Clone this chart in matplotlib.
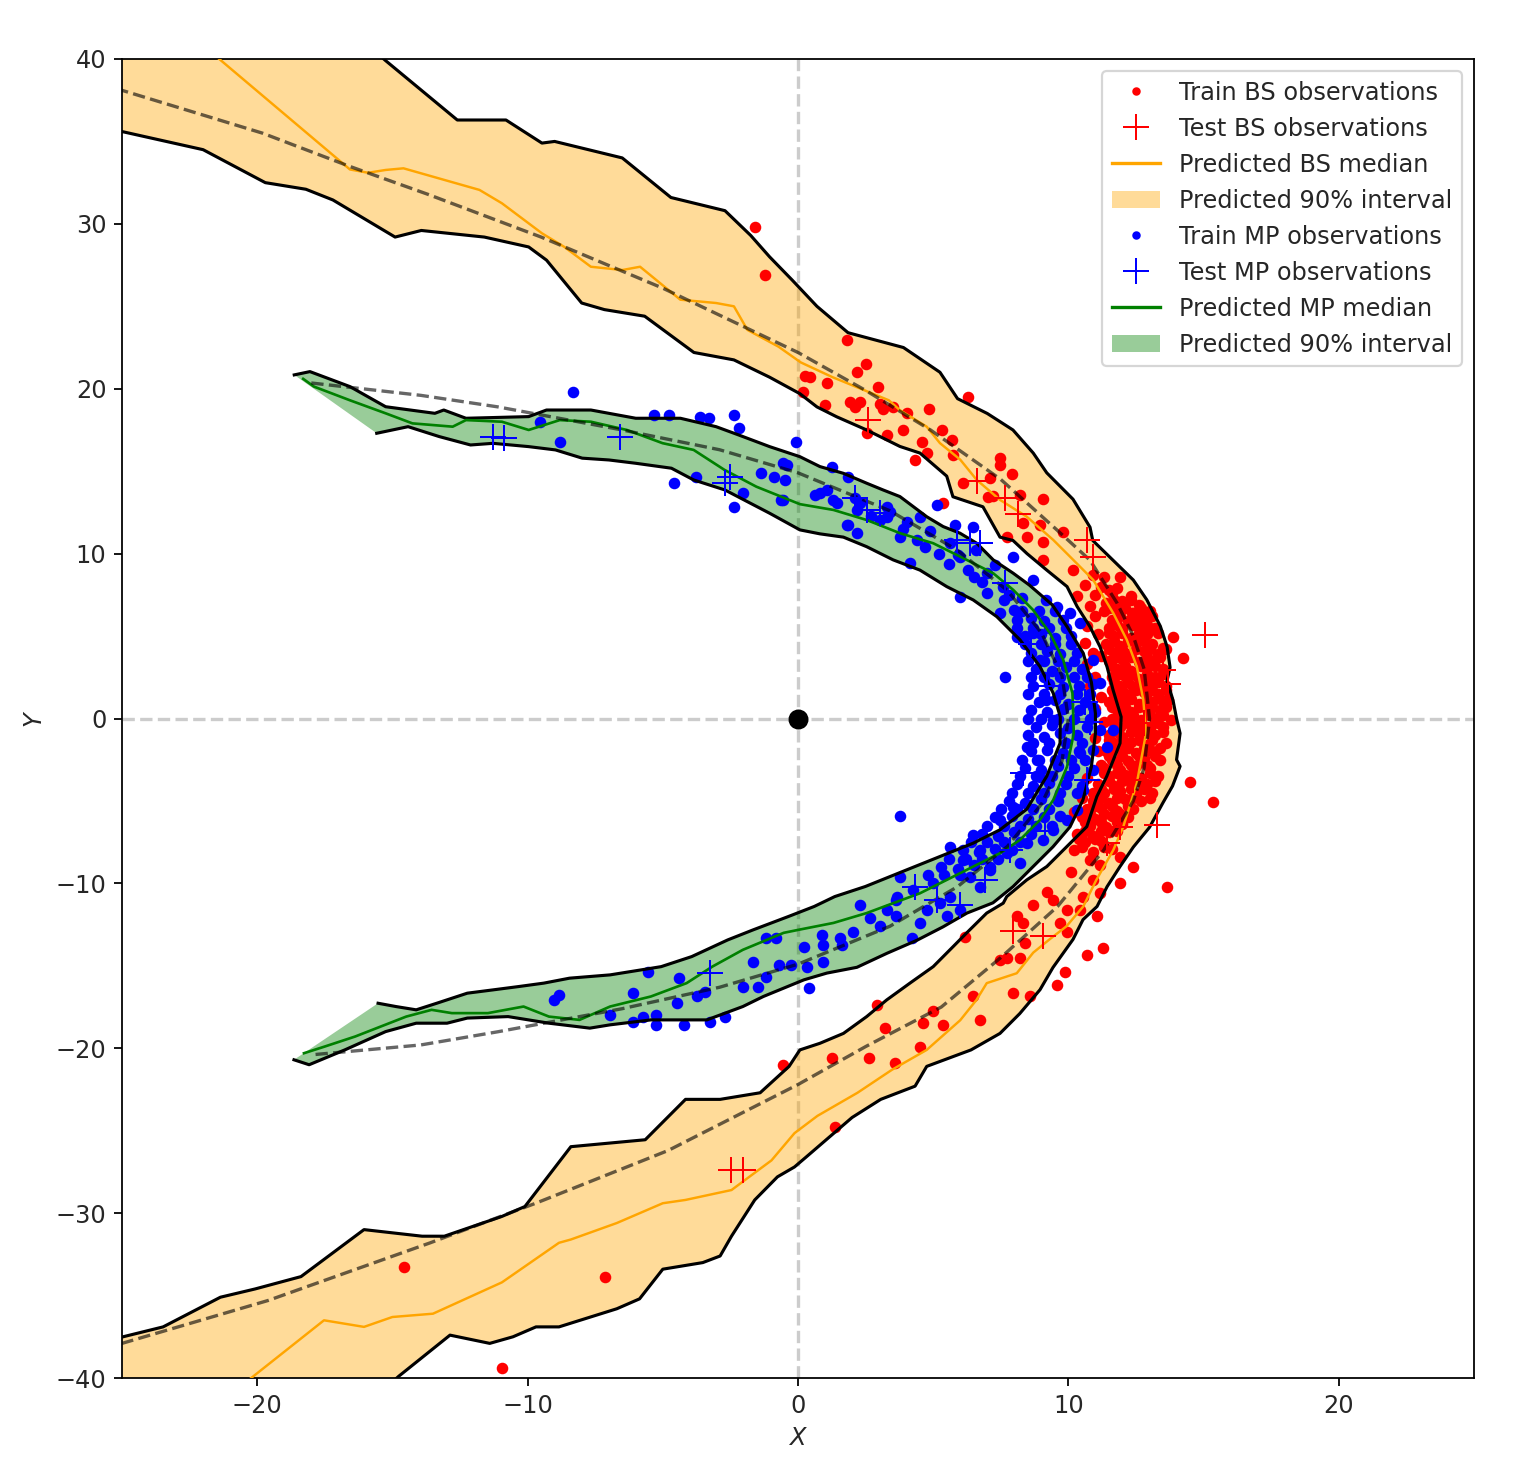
import matplotlib
matplotlib.use("Agg")
import matplotlib.pyplot as plt
from matplotlib.lines import Line2D
from matplotlib.patches import Patch

# ---------------- data ----------------
# Bow shock 90% interval: outer edge and inner edge (x, y), top -> bottom
bs_outer = [(-16.0, 41.0), (-15.25, 39.9), (-12.6, 36.3), (-10.8, 36.3), (-9.47, 34.9), (-9.0, 35.0),
            (-6.5, 34.0), (-4.7, 31.6), (-2.7, 30.8), (-1.75, 29.3), (-1.05, 28.0), (-0.22, 26.6),
            (0.7, 25.0), (1.85, 23.4), (3.9, 22.5), (5.25, 21.0), (5.9, 19.4), (7.0, 18.5),
            (7.95, 17.5), (8.7, 16.1), (9.2, 14.9), (10.17, 13.3), (10.8, 11.6), (10.9, 10.8),
            (11.65, 9.6), (12.4, 8.4), (12.9, 7.2), (13.4, 5.6), (13.65, 4.35), (13.76, 3.1),
            (13.65, 2.3), (13.87, 1.1), (14.0, 0.0), (14.13, -0.9), (14.0, -2.5), (14.13, -2.9),
            (13.85, -4.1), (13.5, -5.1), (13.0, -6.6), (12.4, -7.8), (11.9, -9.0), (11.43, -10.2),
            (11.06, -11.4), (10.54, -12.2), (10.17, -13.4), (9.43, -15.1), (8.95, -16.45),
            (8.2, -17.9), (7.47, -19.1), (6.4, -20.1), (4.76, -21.1), (4.33, -22.3), (3.06, -23.1),
            (2.0, -24.2), (1.15, -25.4), (0.3, -26.6), (-0.13, -27.2), (-0.76, -27.8), (-1.6, -29.2),
            (-2.46, -31.4), (-2.88, -32.6), (-3.52, -33.0), (-5.0, -33.4), (-5.86, -35.2),
            (-6.7, -35.8), (-8.84, -36.9), (-9.69, -36.9), (-10.54, -37.5), (-11.4, -37.9),
            (-12.87, -37.4), (-14.77, -39.9), (-15.5, -41.0)]
bs_inner = [(-30.0, 37.4), (-25.0, 35.6), (-22.0, 34.5), (-19.7, 32.5), (-18.2, 32.1), (-17.2, 31.45),
            (-14.9, 29.2), (-13.93, 29.6), (-11.6, 29.2), (-9.96, 28.6), (-9.3, 27.8), (-8.0, 25.2),
            (-7.16, 24.8), (-5.67, 24.4), (-3.85, 22.2), (-2.37, 21.75), (-1.05, 20.7), (0.07, 19.7),
            (0.7, 18.9), (1.43, 18.3), (2.54, 17.5), (3.77, 16.5), (4.51, 16.1), (5.5, 14.7),
            (5.73, 13.45), (6.84, 12.84), (7.47, 11.0), (7.95, 10.8), (8.47, 10.0), (9.2, 9.0),
            (9.95, 8.0), (10.32, 6.8), (10.8, 5.56), (11.17, 4.35), (11.43, 3.13), (11.65, 1.74),
            (11.95, 0.1), (11.91, -1.5), (11.42, -3.5), (11.05, -4.74), (10.68, -6.56), (9.94, -7.77),
            (9.2, -8.98), (8.46, -9.79), (7.72, -10.8), (7.59, -11.2), (6.98, -11.8), (6.24, -13.0),
            (5.74, -13.83), (5.0, -15.05), (4.14, -16.05), (3.28, -17.07), (2.54, -18.08),
            (1.68, -19.1), (0.81, -19.7), (0.07, -20.1), (-0.33, -21.1), (-1.4, -22.7), (-2.88, -23.1),
            (-4.16, -23.1), (-5.65, -25.55), (-8.4, -25.97), (-10.1, -29.6), (-10.95, -30.2),
            (-13.08, -31.4), (-13.9, -31.4), (-16.05, -31.0), (-18.38, -33.85), (-20.08, -34.6),
            (-21.36, -35.1), (-23.48, -36.9), (-24.96, -37.5), (-30.0, -39.6)]
bs_median = [(-22.0, 40.8), (-21.36, 39.94), (-16.57, 33.3), (-15.9, 33.1), (-15.25, 33.27),
             (-14.59, 33.37), (-11.78, 32.06), (-10.95, 31.25), (-9.47, 29.43), (-8.64, 28.6),
             (-7.66, 27.4), (-6.5, 27.2), (-5.84, 27.4), (-4.35, 25.4), (-3.03, 25.2), (-2.37, 25.0),
             (-1.87, 23.57), (-0.72, 22.55), (0.1, 21.6), (1.28, 20.7), (3.36, 19.3), (3.77, 18.7),
             (4.76, 17.7), (5.25, 16.7), (6.0, 15.7), (6.61, 14.47), (7.47, 13.26), (8.46, 12.24),
             (9.44, 10.83), (10.18, 9.62), (10.92, 8.4), (11.66, 6.39), (12.16, 4.77), (12.53, 3.15),
             (12.77, 1.13), (12.87, -0.9), (12.53, -3.92), (12.03, -6.56), (11.66, -7.98),
             (11.03, -9.8), (10.55, -11.4), (9.93, -12.6), (9.3, -13.4), (8.7, -14.2), (8.09, -15.45),
             (6.98, -16.05), (6.6, -17.07), (6.0, -18.3), (4.76, -20.1), (3.48, -21.3), (2.2, -22.7),
             (0.72, -24.1), (-0.13, -25.15), (-0.98, -26.8), (-2.46, -28.6), (-4.16, -29.2),
             (-5.0, -29.4), (-6.7, -30.6), (-8.4, -31.6), (-8.84, -31.8), (-10.95, -34.2),
             (-13.5, -36.1), (-15.0, -36.3), (-16.05, -36.9), (-17.53, -36.5), (-20.3, -40.1),
             (-20.8, -41.0)]
bs_model = [(-26.5, 38.6), (-25.0, 38.1), (-19.8, 35.5), (-16.6, 33.5), (-13.7, 31.8), (-9.5, 29.2),
            (-5.0, 26.1), (0.0, 22.2), (2.5, 19.9), (4.9, 17.5), (7.5, 14.5), (9.6, 11.4), (10.8, 9.6),
            (11.8, 7.0), (12.4, 5.0), (12.8, 3.0), (13.0, 0.0), (12.8, -3.0), (12.4, -5.0),
            (11.3, -8.0), (9.6, -11.4), (7.5, -14.5), (5.3, -17.5), (2.5, -19.9), (0.0, -22.2),
            (-4.8, -26.2), (-9.7, -29.4), (-13.6, -31.8), (-19.6, -35.3), (-25.0, -37.9), (-26.5, -38.6)]

# Magnetopause 90% interval: outer edge (tip -> nose -> tip) and inner edge
mp_outer = [(-18.63, 20.84), (-18.05, 21.04), (-16.57, 20.13), (-15.25, 18.91), (-13.43, 18.51),
            (-13.1, 18.71), (-12.28, 18.21), (-9.96, 18.31), (-9.3, 18.71), (-7.66, 18.71),
            (-6.0, 18.21), (-4.35, 18.21), (-3.03, 17.7), (-2.2, 17.2), (-1.05, 16.49), (0.07, 15.88),
            (0.81, 15.28), (1.68, 14.87), (2.54, 14.27), (3.15, 13.86), (3.77, 13.46), (4.76, 12.24),
            (5.37, 11.64), (5.99, 11.24), (6.61, 10.63), (7.22, 9.62), (7.96, 8.81), (8.55, 8.1),
            (9.4, 6.9), (9.95, 5.57), (10.55, 3.96), (10.85, 2.2), (11.0, 0.3), (11.0, -0.9),
            (10.85, -2.93), (10.54, -4.93), (10.06, -6.57), (9.43, -7.78), (8.69, -8.99),
            (7.95, -10.2), (7.21, -11.18), (6.25, -11.8), (5.36, -12.64), (4.4, -13.45),
            (3.29, -14.24), (2.18, -15.09), (1.07, -15.44), (0.22, -15.85), (-1.28, -16.86),
            (-2.04, -17.47), (-3.37, -18.28), (-5.44, -18.28), (-6.95, -18.58), (-7.7, -18.78),
            (-9.21, -18.48), (-10.72, -18.08), (-12.23, -18.17), (-12.98, -18.48), (-14.12, -18.48),
            (-15.25, -18.99), (-16.76, -20.1), (-18.08, -21.0), (-18.64, -20.7)]
mp_inner = [(-15.58, 17.3), (-14.42, 17.7), (-13.27, 17.1), (-12.11, 16.59), (-11.28, 16.69),
            (-9.96, 16.49), (-8.97, 16.29), (-7.98, 15.79), (-6.99, 15.68), (-6.0, 15.48),
            (-4.68, 15.18), (-3.86, 14.47), (-2.7, 13.86), (-1.87, 13.15), (-1.05, 12.45),
            (0.07, 11.44), (0.81, 11.2), (1.68, 11.0), (2.54, 10.42), (3.52, 9.62), (4.51, 9.0),
            (5.5, 8.0), (6.48, 7.19), (7.35, 6.18), (8.21, 4.77), (8.95, 3.15), (9.44, 1.53),
            (9.7, 0.1), (9.69, -1.5), (9.2, -3.5), (8.46, -5.5), (7.47, -6.75), (6.48, -7.56),
            (5.25, -8.37), (4.02, -9.18), (2.49, -10.19), (1.36, -10.8), (0.6, -11.4), (-0.34, -12.0),
            (-1.66, -12.82), (-2.6, -13.43), (-3.93, -14.44), (-5.06, -15.05), (-5.81, -15.25),
            (-6.95, -15.55), (-8.45, -15.75), (-9.4, -16.05), (-10.34, -16.26), (-11.28, -16.46),
            (-12.23, -16.66), (-13.36, -17.27), (-14.12, -17.67), (-14.87, -17.47), (-15.53, -17.27)]
mp_median = [(-18.3, 20.6), (-17.9, 20.13), (-16.57, 19.3), (-15.25, 18.51), (-14.26, 17.9),
             (-12.77, 17.7), (-12.28, 18.1), (-10.95, 18.0), (-9.96, 17.5), (-8.81, 18.1),
             (-7.66, 18.0), (-6.33, 17.5), (-5.01, 16.7), (-3.86, 16.29), (-2.72, 15.08),
             (-1.54, 14.06), (0.07, 13.0), (1.31, 12.65), (2.54, 12.04), (3.77, 11.24), (5.0, 10.63),
             (6.24, 9.62), (7.22, 8.81), (7.96, 7.8), (8.69, 6.59), (9.32, 5.17), (9.81, 3.55),
             (10.15, 1.53), (10.2, -0.89), (9.95, -2.92), (9.44, -4.94), (8.95, -6.15), (8.21, -7.36),
             (7.47, -8.17), (6.48, -8.98), (5.5, -9.79), (4.51, -10.6), (3.52, -11.2), (2.54, -11.8),
             (1.31, -12.4), (0.07, -12.8), (-0.53, -13.0), (-2.04, -14.03), (-3.17, -15.05),
             (-4.12, -16.05), (-5.44, -16.86), (-6.95, -17.47), (-8.08, -18.28), (-9.21, -18.08),
             (-10.15, -17.47), (-11.47, -17.87), (-12.8, -17.87), (-13.55, -17.67), (-14.49, -18.08),
             (-16.38, -19.29), (-17.51, -19.9), (-18.27, -20.3)]
mp_model = [(-18.0, 20.35), (-13.95, 19.6), (-11.1, 18.9), (-6.5, 17.5), (-2.9, 16.3), (0.0, 14.9),
            (3.4, 12.6), (5.9, 10.2), (7.75, 7.75), (9.0, 5.2), (9.76, 2.6), (10.0, 0.0), (9.76, -2.6),
            (9.0, -5.2), (7.75, -7.75), (5.9, -10.2), (3.4, -12.6), (0.0, -14.9), (-2.9, -16.3),
            (-6.5, -17.6), (-11.1, -19.0), (-13.95, -19.8), (-18.0, -20.4)]

# Observations
bs_train = [
    (-1.59, 29.8), (-1.22, 26.9), (1.8, 22.96), (2.51, 21.5), (0.26, 20.8), (0.44, 20.7), (1.06, 20.33),
    (0.2, 19.8), (2.97, 20.1), (1.92, 19.2), (2.1, 18.9), (2.29, 19.2), (0.99, 19.0), (3.03, 19.1),
    (3.15, 18.8), (3.52, 18.9), (4.02, 18.5), (4.86, 18.8), (6.3, 19.5), (3.9, 17.5), (3.3, 17.2),
    (2.54, 17.3), (4.57, 16.8), (5.31, 17.5), (4.76, 16.1), (5.68, 16.9), (5.74, 16.0), (4.33, 15.7),
    (7.47, 15.8), (7.47, 15.4), (7.9, 14.8), (6.11, 14.3), (7.1, 14.6), (7.22, 13.5), (9.07, 13.3),
    (5.37, 13.1), (7.04, 13.46), (8.21, 13.56), (8.46, 11.03), (9.07, 10.73), (9.81, 11.33),
    (8.33, 11.84), (8.95, 11.74), (7.72, 11.03), (9.07, 9.62), (11.9, 8.6), (10.18, 9.0), (10.92, 8.7),
    (13.88, 4.97), (14.25, 3.66), (12.34, 6.39), (2.2, 21.0),
    (11.2, 8.0), (11.8, 7.9), (11.0, 7.5), (11.6, 7.6), (12.3, 7.4), (11.4, 7.0), (12.0, 7.1), (12.6, 6.9),
    (11.3, 6.5), (11.8, 6.6), (12.4, 6.4), (13.0, 6.5), (11.6, 6.0), (12.2, 5.9), (12.8, 6.1),
    (11.5, 5.5), (12.0, 5.4), (12.6, 5.6), (13.2, 5.5), (11.7, 5.0), (12.3, 4.9), (12.9, 5.1),
    (11.4, 4.5), (11.9, 4.4), (12.5, 4.6), (13.1, 4.5), (13.5, 4.3), (11.7, 4.0), (12.2, 3.9),
    (12.8, 4.1), (13.3, 3.9), (11.5, 3.5), (12.0, 3.6), (12.6, 3.4), (13.1, 3.5), (11.8, 3.0),
    (12.3, 2.9), (12.9, 3.1), (13.5, 3.0), (11.6, 2.5), (12.1, 2.6), (12.6, 2.4), (13.2, 2.5),
    (11.9, 2.0), (12.4, 1.9), (13.0, 2.1), (13.6, 2.0), (11.7, 1.5), (12.2, 1.4), (12.8, 1.6),
    (13.3, 1.5), (11.5, 1.0), (12.0, 1.1), (12.6, 0.9), (13.1, 1.0), (13.7, 1.1), (11.8, 0.5),
    (12.3, 0.4), (12.9, 0.6), (13.4, 0.5), (11.6, 0.0), (12.1, 0.1), (12.7, -0.1), (13.2, 0.0),
    (13.8, -0.1), (11.9, -0.5), (12.4, -0.4), (13.0, -0.6), (13.5, -0.5), (11.5, -1.0), (12.0, -1.1),
    (12.6, -0.9), (13.2, -1.0), (11.7, -1.5), (12.3, -1.4), (12.9, -1.6), (13.6, -1.5), (11.4, -2.0),
    (12.0, -1.9), (12.5, -2.1), (13.1, -2.0), (11.6, -2.5), (12.2, -2.6), (12.8, -2.4), (13.4, -2.5),
    (11.3, -3.0), (11.9, -3.1), (12.5, -2.9), (13.0, -3.0), (11.5, -3.5), (12.1, -3.4), (12.7, -3.6),
    (13.3, -3.5), (11.1, -4.0), (11.7, -4.1), (12.3, -3.9), (12.9, -4.0), (11.3, -4.5), (11.9, -4.4),
    (12.5, -4.6), (13.1, -4.5), (10.9, -5.0), (11.5, -5.1), (12.1, -4.9), (12.7, -5.0), (10.7, -5.5),
    (11.2, -5.4), (11.8, -5.6), (12.4, -5.5), (10.5, -6.0), (11.0, -6.1), (11.6, -5.9), (12.2, -6.0),
    (10.8, -6.5), (11.4, -6.6), (12.0, -6.4), (10.3, -7.0), (10.9, -7.1), (11.5, -6.9), (10.6, -7.5),
    (11.2, -7.4), (10.2, -8.0), (10.9, -8.1), (11.6, -7.9),
    (11.5, 7.8), (11.7, 7.2), (12.3, 7.2), (11.5, 6.7), (12.1, 6.7), (12.7, 6.7), (11.9, 6.2),
    (12.5, 6.2), (13.1, 6.2), (11.8, 5.7), (12.4, 5.7), (12.9, 5.7), (11.5, 5.2), (12.0, 5.2),
    (12.6, 5.2), (13.3, 5.2), (11.7, 4.7), (12.2, 4.7), (12.8, 4.7), (11.5, 4.2), (12.0, 4.2),
    (12.5, 4.2), (13.0, 4.2), (13.6, 4.2), (11.8, 3.7), (12.3, 3.7), (12.9, 3.7), (13.4, 3.7),
    (11.6, 3.2), (12.1, 3.2), (12.7, 3.2), (13.2, 3.2), (11.9, 2.7), (12.4, 2.7), (12.9, 2.7),
    (13.5, 2.7), (11.7, 2.2), (12.2, 2.2), (12.7, 2.2), (13.3, 2.2), (11.6, 1.7), (12.0, 1.7),
    (12.5, 1.7), (13.1, 1.7), (13.6, 1.7), (11.8, 1.2), (12.3, 1.2), (12.9, 1.2), (13.4, 1.2),
    (11.6, 0.7), (12.1, 0.7), (12.6, 0.7), (13.1, 0.7), (13.6, 0.7), (11.9, 0.2), (12.4, 0.2),
    (13.0, 0.2), (13.5, 0.2), (11.7, -0.3), (12.2, -0.3), (12.7, -0.3), (13.3, -0.3), (11.8, -0.8),
    (12.3, -0.8), (12.9, -0.8), (13.5, -0.8), (11.5, -1.3), (12.0, -1.3), (12.6, -1.3), (13.1, -1.3),
    (11.7, -1.8), (12.2, -1.8), (12.8, -1.8), (13.4, -1.8), (11.5, -2.3), (12.0, -2.3), (12.6, -2.3),
    (13.2, -2.3), (11.8, -2.8), (12.3, -2.8), (12.9, -2.8), (11.3, -3.3), (11.8, -3.3), (12.4, -3.3),
    (13.0, -3.3), (11.5, -3.8), (12.0, -3.8), (12.6, -3.8), (13.2, -3.8), (11.2, -4.3), (11.7, -4.3),
    (12.3, -4.3), (12.8, -4.3), (11.2, -4.8), (11.8, -4.8), (12.4, -4.8), (13.0, -4.8), (11.0, -5.3),
    (11.6, -5.3), (12.2, -5.3), (10.8, -5.8), (11.3, -5.8), (11.9, -5.8), (10.6, -6.3), (11.2, -6.3),
    (11.8, -6.3), (10.6, -6.8), (11.2, -6.8), (11.8, -6.8), (10.4, -7.3), (11.0, -7.3), (10.5, -7.8),
    (11.3, -7.8),
    (10.8, 6.8), (11.0, 6.2), (10.7, 5.6), (11.1, 5.1), (10.6, 4.6), (11.2, 3.8), (10.8, 2.0),
    (11.2, 1.3), (11.0, 0.6), (11.3, -0.2), (11.0, -1.2), (11.1, -2.0), (10.7, -3.6), (10.5, -4.8),
    (10.2, -5.7), (11.3, 8.6), (10.6, 8.1), (10.3, 7.4),
    (10.9, 4.0), (11.0, 2.5), (10.7, 3.3), (11.2, -2.8), (10.9, -4.5),
    (14.5, -3.83), (13.64, -10.2), (6.18, -13.23), (8.09, -12.0), (8.33, -12.4), (9.44, -11.0),
    (9.94, -11.6), (10.43, -11.6), (10.55, -10.8), (10.92, -9.79), (10.8, -8.6), (11.17, -8.9),
    (11.9, -8.37), (11.9, -9.99), (11.17, -10.6), (11.05, -12.0), (11.29, -13.93), (10.68, -14.34),
    (7.72, -14.54), (8.21, -14.54), (9.94, -12.92), (9.69, -12.42), (15.36, -5.04), (9.87, -15.35),
    (9.57, -16.15), (8.58, -16.86), (7.96, -16.66), (6.73, -18.28), (5.37, -18.58), (5.0, -17.77),
    (4.63, -18.48), (3.22, -18.78), (2.91, -17.37), (4.51, -19.9), (6.48, -16.86), (7.47, -14.64),
    (8.4, -13.6), (-0.55, -21.0), (1.25, -20.6), (2.63, -20.6), (3.59, -20.9), (1.36, -24.75),
    (-14.56, -33.24), (-7.13, -33.85), (-10.95, -39.4), (9.2, -10.5), (10.1, -9.3), (12.4, -9.0),
    (8.7, -11.3)]
bs_test = [(2.6, 18.1), (6.61, 14.4), (7.66, 13.4), (8.15, 12.4), (10.68, 10.8), (10.92, 9.8),
           (15.05, 5.07), (13.5, 2.95), (13.7, 2.1), (12.8, -0.3), (12.4, -3.7), (11.43, -7.56),
           (11.9, -6.6), (13.26, -6.45), (7.96, -12.9), (9.07, -13.2), (-2.46, -27.4), (-2.03, -27.4)]
mp_train = [
    (-8.31, 19.8), (-9.55, 18.0), (-8.81, 16.8), (-5.34, 18.4), (-4.76, 18.4), (-3.61, 18.3),
    (-3.28, 18.2), (-2.37, 18.4), (-2.2, 17.6), (-4.6, 14.27), (-3.77, 14.67), (-2.04, 13.66),
    (-2.37, 12.85), (-1.38, 14.87), (-0.88, 14.67), (-0.47, 14.47), (-0.64, 13.26), (-0.39, 15.38),
    (-0.06, 16.8), (-0.54, 15.5), (1.25, 15.28), (1.86, 14.67), (0.81, 13.66), (1.06, 13.86),
    (1.43, 13.06), (2.1, 13.36), (2.29, 13.06), (2.17, 12.65), (3.28, 12.85), (3.4, 12.55),
    (5.13, 12.95), (5.8, 11.74), (-0.54, 13.26), (1.86, 11.74), (3.03, 12.04), (4.02, 11.94),
    (0.63, 13.56), (1.31, 13.26), (1.8, 11.74), (2.17, 11.24), (3.28, 12.24), (3.77, 11.03),
    (4.14, 9.42), (5.62, 10.63), (6.0, 9.82), (6.48, 11.64), (6.98, 8.81), (7.59, 8.0), (7.47, 6.39),
    (7.96, 9.82), (8.69, 8.4), (9.19, 7.19), (9.57, 6.79), (10.06, 6.39), (10.43, 5.78), (6.0, 7.39),
    (7.66, 2.54), (8.09, 4.97), (8.7, 5.17), (8.95, 3.55), (9.19, 1.13), (9.44, -0.08), (10.92, 3.55),
    (11.17, 2.14), (10.92, 0.72), (4.5, 12.2), (2.7, 12.3), (4.9, 11.4), (6.6, 10.2), (7.3, 9.3),
    (5.2, 10.0), (5.6, 9.4), (6.3, 9.0), (6.8, 8.3), (7.0, 7.6), (7.6, 7.2), (8.0, 6.6), (6.5, 8.6),
    (5.9, 9.9), (4.7, 10.4), (4.4, 10.8), (3.9, 11.5), (7.8, 7.5), (8.3, 7.3),
    (8.1, 6.0), (8.6, 6.1), (9.1, 5.9), (9.8, 6.0), (8.4, 5.0), (9.0, 5.1), (9.5, 4.9), (10.1, 5.0),
    (8.6, 4.0), (9.2, 4.1), (9.7, 3.9), (10.3, 4.0), (8.8, 3.0), (9.4, 2.9), (9.9, 3.1), (10.5, 3.0),
    (8.7, 2.0), (9.3, 2.1), (9.8, 1.9), (10.4, 2.0), (10.9, 2.1), (8.9, 1.0), (9.5, 1.1), (10.0, 0.9),
    (10.6, 1.0), (8.6, 0.5), (9.2, 0.4), (9.8, 0.6), (10.4, 0.5), (11.0, 0.4), (8.8, -0.5),
    (9.4, -0.4), (10.0, -0.6), (10.7, -0.5), (8.5, -1.0), (9.1, -1.1), (9.7, -0.9), (10.3, -1.0),
    (8.6, -2.0), (9.2, -1.9), (9.8, -2.1), (10.4, -2.0), (10.9, -1.9), (8.4, -3.0), (9.0, -3.1),
    (9.6, -2.9), (10.2, -3.0), (8.1, -4.0), (8.7, -4.1), (9.3, -3.9), (9.9, -4.0), (10.5, -4.1),
    (7.8, -5.0), (8.4, -5.1), (9.0, -4.9), (9.6, -5.0), (7.3, -6.0), (7.9, -5.9), (8.5, -6.1),
    (9.1, -6.0), (9.7, -5.9), (6.8, -7.0), (7.4, -7.1), (8.0, -6.9), (8.6, -7.0), (6.1, -8.0),
    (6.7, -8.1), (7.3, -7.9), (7.9, -8.0), (5.3, -9.0), (5.9, -9.1), (6.5, -8.9), (7.1, -9.0),
    (8.3, 6.5), (8.9, 6.5), (9.5, 6.5), (8.1, 5.5), (8.7, 5.5), (9.3, 5.5), (9.9, 5.5), (8.4, 4.5),
    (9.0, 4.5), (9.5, 4.5), (10.1, 4.5), (8.5, 3.5), (9.1, 3.5), (9.6, 3.5), (10.2, 3.5), (8.6, 2.5),
    (9.1, 2.5), (9.7, 2.5), (10.2, 2.5), (10.7, 2.5), (8.5, 1.5), (9.1, 1.5), (9.7, 1.5), (10.3, 1.5),
    (10.8, 1.5), (8.5, 0.0), (9.0, 0.0), (9.6, 0.0), (10.2, 0.0), (10.8, 0.0), (8.7, -1.5),
    (9.3, -1.5), (9.9, -1.5), (10.5, -1.5), (8.3, -2.5), (8.9, -2.5), (9.5, -2.5), (10.1, -2.5),
    (10.6, -2.5), (8.2, -3.5), (8.8, -3.5), (9.4, -3.5), (10.0, -3.5), (7.9, -4.5), (8.5, -4.5),
    (9.1, -4.5), (9.7, -4.5), (10.3, -4.5), (7.5, -5.5), (8.1, -5.5), (8.7, -5.5), (9.3, -5.5),
    (7.0, -6.5), (7.6, -6.5), (8.2, -6.5), (8.8, -6.5), (9.4, -6.5), (6.4, -7.5), (7.0, -7.5),
    (7.6, -7.5), (8.2, -7.5), (5.6, -8.5), (6.2, -8.5), (6.8, -8.5), (7.4, -8.5), (4.8, -9.5),
    (5.4, -9.5), (6.0, -9.5),
    (8.46, -1.7), (8.83, -2.51), (8.95, -3.52), (7.96, -5.34), (7.47, -6.15), (6.48, -7.06),
    (5.62, -7.77), (6.11, -8.58), (6.73, -7.97), (7.1, -9.18), (8.21, -8.78), (7.72, -8.17),
    (8.46, -7.56), (9.07, -7.36), (9.44, -6.75), (9.94, -6.15), (10.31, -5.54), (10.55, -4.33),
    (10.92, -3.12), (11.42, -1.7), (11.17, -0.69), (11.66, -0.69), (10.43, -2.1), (3.77, -9.59),
    (3.65, -10.8), (4.26, -10.4), (5.0, -9.99), (5.25, -11.2), (4.76, -11.6), (5.62, -10.8),
    (5.99, -11.6), (5.5, -12.0), (4.51, -12.4), (3.28, -11.6), (3.03, -12.6), (6.36, -9.59),
    (6.73, -10.2), (4.2, -13.3), (3.77, -5.9),
    (-9.02, -17.07), (-8.83, -16.76), (-6.09, -16.66), (-5.53, -15.35), (-6.95, -17.98),
    (-6.09, -18.38), (-5.72, -18.08), (-5.25, -17.98), (-5.25, -18.58), (-4.21, -18.58),
    (-3.27, -18.38), (-2.7, -18.08), (-4.49, -17.27), (-4.4, -15.75), (-3.73, -16.86),
    (-3.45, -16.56), (-2.04, -16.26), (-1.66, -14.74), (-1.47, -16.26), (-1.19, -15.65),
    (-1.19, -13.32), (-0.81, -13.32), (-0.72, -14.94), (-0.25, -14.94), (0.22, -13.83),
    (0.32, -15.05), (0.41, -16.36), (0.89, -13.12), (0.94, -13.73), (0.94, -14.74), (1.55, -13.32),
    (1.64, -13.73), (2.02, -12.92), (2.3, -11.3), (2.68, -12.11), (3.62, -11.0), (3.62, -12.0)]
mp_test = [(-11.28, 17.1), (-10.87, 17.0), (-6.58, 17.1), (-2.53, 14.67), (-2.7, 14.3), (2.1, 13.4),
           (2.54, 12.65), (3.03, 12.45), (5.87, 10.83), (6.36, 10.63), (6.73, 10.63), (7.66, 8.2),
           (8.6, 4.5), (9.2, 2.0), (10.6, 1.0), (10.8, -0.2), (8.33, -3.32), (10.68, -3.72),
           (9.13, -6.8), (7.84, -8.0), (6.92, -9.8), (4.33, -10.2), (5.14, -11.0), (5.99, -11.3),
           (-3.27, -15.45)]

x_limits = (-25, 25)
y_limits = (-40, 40)
legend_labels = ["Train BS observations", "Test BS observations", "Predicted BS median",
                 "Predicted 90% interval", "Train MP observations", "Test MP observations",
                 "Predicted MP median", "Predicted 90% interval"]


def xs(pts):
    return [p[0] for p in pts]


def ys(pts):
    return [p[1] for p in pts]


# ---------------- figure ----------------
plt.rcParams['font.family'] = ['DejaVu Sans']
plt.rcParams['font.size'] = 10.8
plt.rcParams['text.color'] = '#262626'
plt.rcParams['xtick.labelcolor'] = '#262626'
plt.rcParams['ytick.labelcolor'] = '#262626'
plt.rcParams['axes.labelcolor'] = '#262626'
fig = plt.figure(figsize=(1526 / 160, 1481 / 160), dpi=160)
ax = fig.add_axes([122 / 1526, 103 / 1481, 1352 / 1526, 1319 / 1481])

ax.axhline(0, color='gray', ls='--', lw=1.5, alpha=0.4, zorder=0.5)
ax.axvline(0, color='gray', ls='--', lw=1.5, alpha=0.4, zorder=0.5)

# bow shock band
bs_poly = bs_outer + [(-40.0, -45.0)] + bs_inner[::-1] + [(-40.0, 45.0)]
ax.fill(xs(bs_poly), ys(bs_poly), color='orange', alpha=0.4, lw=0, zorder=1)
# magnetopause band
mp_poly = mp_outer + mp_inner[::-1]
ax.fill(xs(mp_poly), ys(mp_poly), color='green', alpha=0.4, lw=0, zorder=1)

# observations
ax.plot(xs(bs_train), ys(bs_train), 'o', color='red', ms=4.2, ls='none', zorder=2)
ax.plot(xs(mp_train), ys(mp_train), 'o', color='blue', ms=4.2, ls='none', zorder=2)

# band edges
for pts in (bs_outer, bs_inner, mp_outer, mp_inner):
    ax.plot(xs(pts), ys(pts), color='black', lw=1.4, zorder=3)

# medians and models
ax.plot(xs(bs_median), ys(bs_median), color='orange', lw=1.1, zorder=3)
ax.plot(xs(mp_median), ys(mp_median), color='green', lw=1.2, zorder=3)
ax.plot(xs(bs_model), ys(bs_model), color='black', ls='--', lw=1.5, alpha=0.6, zorder=3)
ax.plot(xs(mp_model), ys(mp_model), color='black', ls='--', lw=1.5, alpha=0.6, zorder=3)

# test observations
ax.plot(xs(bs_test), ys(bs_test), '+', color='red', ms=11.5, mew=0.9, ls='none', zorder=4)
ax.plot(xs(mp_test), ys(mp_test), '+', color='blue', ms=11.5, mew=0.9, ls='none', zorder=4)

# planet
ax.plot([0], [0], 'o', color='black', ms=8, zorder=5)

ax.set_xlim(*x_limits)
ax.set_ylim(*y_limits)
ax.set_xlabel('$X$')
ax.set_ylabel('$Y$')

handles = [
    Line2D([], [], marker='o', color='red', ms=2.8, ls='none'),
    Line2D([], [], marker='+', color='red', ms=11.5, mew=0.9, ls='none'),
    Line2D([], [], color='orange', lw=1.5),
    Patch(facecolor='orange', alpha=0.4, lw=0),
    Line2D([], [], marker='o', color='blue', ms=2.8, ls='none'),
    Line2D([], [], marker='+', color='blue', ms=11.5, mew=0.9, ls='none'),
    Line2D([], [], color='green', lw=1.5),
    Patch(facecolor='green', alpha=0.4, lw=0),
]
ax.legend(handles, legend_labels, loc='upper right')

fig.savefig('out.png', dpi=160)
